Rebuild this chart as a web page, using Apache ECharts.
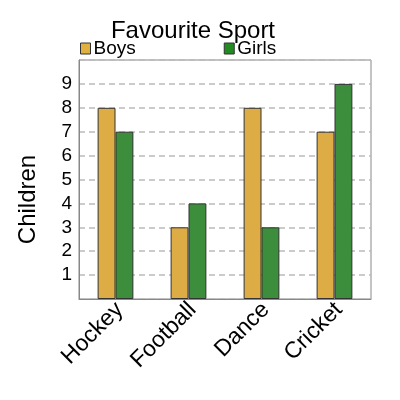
<!DOCTYPE html>
<html><head><meta charset="utf-8">
<script src="https://cdn.jsdelivr.net/npm/echarts@6/dist/echarts.min.js"></script>
<style>html,body{margin:0;padding:0;background:#fff}#c{width:400px;height:400px}</style>
</head><body><div id="c"></div>
<script>
var categories = ["Hockey", "Football", "Dance", "Cricket"];
var boys = [8, 3, 8, 7];
var girls = [7, 4, 3, 9];
var yTicks = [1, 2, 3, 4, 5, 6, 7, 8, 9];

var chart = echarts.init(document.getElementById('c'));
var font = 'Liberation Sans, Arial, sans-serif';
chart.setOption({
  animation: false,
  textStyle: { fontFamily: font },
  title: {
    text: 'Favourite Sport', left: 188, textAlign: 'center', top: 14,
    textStyle: { fontSize: 24, fontWeight: 'normal', color: '#000', fontFamily: font }
  },
  legend: {
    left: 80, top: 39, padding: 0, itemWidth: 10, itemHeight: 11, itemGap: 88,
    textStyle: { fontSize: 19, color: '#000', fontFamily: font, padding: [0, 0, 0, -2] },
    data: [
      { name: 'Boys', icon: 'rect', itemStyle: { color: '#E0B040', borderColor: '#333', borderWidth: 1 } },
      { name: 'Girls', icon: 'rect', itemStyle: { color: '#228B22', borderColor: '#333', borderWidth: 1 } }
    ]
  },
  grid: { left: 79, right: 29, top: 60, bottom: 101, show: true, borderColor: '#888', borderWidth: 1 },
  xAxis: {
    type: 'category', data: categories,
    axisLine: { lineStyle: { color: '#888' } },
    axisTick: { show: false },
    axisLabel: { rotate: 45, fontSize: 23, color: '#000', margin: 3, verticalAlign: 'top', lineHeight: 12, fontFamily: font }
  },
  yAxis: {
    type: 'value', min: 0, max: 10, interval: 1,
    name: 'Children', nameLocation: 'middle', nameGap: 39, nameRotate: 90,
    nameTextStyle: { fontSize: 24, color: '#000', fontFamily: font, padding: [0, 40, 0, 0] },
    axisLine: { show: true, lineStyle: { color: '#888' } },
    axisTick: { show: false },
    axisLabel: {
      fontSize: 19, color: '#000', margin: 7, fontFamily: font,
      formatter: function (v) { return yTicks.indexOf(v) >= 0 ? String(v) : ''; }
    },
    splitLine: { lineStyle: { color: '#bbb', type: [6, 4], width: 1.5 } }
  },
  series: [
    { name: 'Boys', type: 'bar', data: boys, barGap: '0%', barCategoryGap: '51%',
      itemStyle: { color: '#DDAC45', borderColor: '#333', borderWidth: 1 } },
    { name: 'Girls', type: 'bar', data: girls,
      itemStyle: { color: '#3C8E3C', borderColor: '#333', borderWidth: 1 } }
  ]
});
</script></body></html>
